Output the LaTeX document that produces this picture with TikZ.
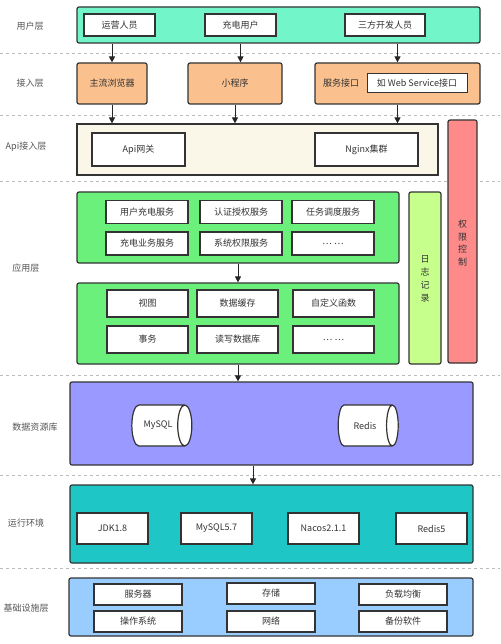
\documentclass[tikz,border=0pt]{standalone}
\usepackage{fontspec}
\newfontfamily\cjk{Noto Sans CJK SC}
\usetikzlibrary{arrows.meta,shapes.geometric}
\definecolor{txt}{HTML}{333333}
\definecolor{lbl}{HTML}{555555}
\definecolor{edge}{HTML}{333333}
\definecolor{cuser}{HTML}{72F5C8}
\definecolor{cacc}{HTML}{FAC08E}
\definecolor{capi}{HTML}{FBF7E8}
\definecolor{cred}{HTML}{FF8A8A}
\definecolor{capp}{HTML}{6CF07C}
\definecolor{clog}{HTML}{C6FF8C}
\definecolor{cdata}{HTML}{9999FF}
\definecolor{crun}{HTML}{1EC6C6}
\definecolor{cinf}{HTML}{99CCFF}
\definecolor{csep}{HTML}{BBBBBB}
\tikzset{
  every node/.style={font=\cjk\fontsize{9pt}{12.8pt}\selectfont, text=txt, inner sep=0pt},
  layer/.style={draw=edge, line width=1.2pt, rounded corners=2pt},
  wbox/.style={draw=edge, line width=1.2pt, fill=white},
  lay/.style={text=lbl},
  sep/.style={draw=csep, dashed, line width=0.6pt},
  arr/.style={draw=black!85, line width=1pt, -{Triangle[length=6pt,width=6pt]}},
  cyl/.style={cylinder, shape border rotate=0, aspect=1.6, draw=edge, line width=1.2pt,
    cylinder uses custom fill, cylinder body fill=white, cylinder end fill=white,
    minimum width=41pt, minimum height=60pt},
}
\newcommand{\bx}[6]{% style, name, cx, cy, w, h ; text after
  \node[#1, minimum width=#5pt, minimum height=#6pt] (#2) at (#3,#4)}
\begin{document}
\begin{tikzpicture}[x=1pt,y=-1pt]
\useasboundingbox[fill=white] (0,0) rectangle (500,644);
% separators
\coordinate (s1l) at (0,53);  \coordinate (s1r) at (500,53);
\coordinate (s2l) at (0,115); \coordinate (s2r) at (500,115);
\coordinate (s3l) at (0,181); \coordinate (s3r) at (500,181);
\coordinate (s4l) at (0,375); \coordinate (s4r) at (500,375);
\coordinate (s5l) at (0,475); \coordinate (s5r) at (500,475);
\coordinate (s6l) at (0,568); \coordinate (s6r) at (500,568);
\foreach \i in {1,...,6} {\draw[sep] (s\i l) -- (s\i r);}
% layer labels
\node[lay] (l1) at (30,26) {用户层};
\node[lay] (l2) at (30,83) {接入层};
\node[lay] (l3) at (26,147) {Api接入层};
\node[lay] (l4) at (26,268) {应用层};
\node[lay] (l5) at (35,427) {数据资源库};
\node[lay] (l6) at (26,523) {运行环境};
\node[lay] (l7) at (26,608) {基础设施层};
% user layer
\bx{layer,fill=cuser}{user}{278.5}{25}{403}{36} {};
\bx{wbox}{u1}{119.5}{25}{71}{22} {运营人员};
\bx{wbox}{u2}{240.5}{25}{71}{22} {充电用户};
\bx{wbox}{u3}{385}{25}{80}{22} {三方开发人员};
% access layer
\bx{layer,fill=cacc}{browser}{112}{83.5}{70}{41} {主流浏览器};
\bx{layer,fill=cacc}{mini}{235}{83.5}{94}{41} {小程序};
\bx{layer,fill=cacc}{svc}{397.5}{83.5}{165}{41} {};
\node (svct) at (341,83.5) {服务接口};
\bx{wbox,line width=1pt}{web}{417}{83.5}{100}{19} {如 Web Service接口};
% api layer
\bx{layer,fill=capi,rounded corners=0pt}{api}{257.5}{149.5}{361}{51} {};
\bx{wbox}{gw}{138.5}{149.5}{93}{33} {Api网关};
\bx{wbox}{ngx}{366.5}{149.5}{103}{33} {Nginx集群};
% permission bar
\bx{layer,fill=cred}{perm}{462.5}{241.5}{29}{243} {};
\node[align=center] (permt) at (462.5,243) {权\\限\\控\\制};
% app layer
\bx{layer,fill=capp}{app1}{238}{227.5}{322}{71} {};
\bx{wbox}{a11}{147}{212}{82}{23} {用户充电服务};
\bx{wbox}{a12}{241}{212}{82}{23} {认证授权服务};
\bx{wbox}{a13}{333}{212}{82}{23} {任务调度服务};
\bx{wbox}{a21}{147}{243.5}{82}{23} {充电业务服务};
\bx{wbox}{a22}{241}{243.5}{82}{23} {系统权限服务};
\bx{wbox}{a23}{333}{243.5}{82}{23} {… …};
\bx{layer,fill=capp}{app2}{238}{323.5}{322}{81} {};
\bx{wbox}{b11}{147.5}{303.5}{81}{27} {视图};
\bx{wbox}{b12}{237.5}{303.5}{81}{27} {数据缓存};
\bx{wbox}{b13}{333.5}{303.5}{81}{27} {自定义函数};
\bx{wbox}{b21}{147.5}{339.5}{81}{27} {事务};
\bx{wbox}{b22}{237.5}{339.5}{81}{27} {读写数据库};
\bx{wbox}{b23}{333.5}{339.5}{81}{27} {… …};
\bx{layer,fill=clog}{log}{425}{278}{32}{172} {};
\node[align=center] (logt) at (425,279) {日\\志\\记\\录};
% data layer
\bx{layer,fill=cdata}{data}{271.5}{423.5}{403}{83} {};
\node[cyl] (mysql) at (158,425.5) {MySQL};
\node[cyl] (redis) at (365,425.5) {Redis};
% runtime
\bx{layer,fill=crun}{run}{271.5}{524}{403}{78} {};
\bx{wbox}{r1}{112.5}{528.5}{71}{31} {JDK1.8};
\bx{wbox}{r2}{216.5}{528.5}{71}{31} {MySQL5.7};
\bx{wbox}{r3}{323.5}{528.5}{71}{31} {Nacos2.1.1};
\bx{wbox}{r4}{431.5}{528.5}{71}{31} {Redis5};
% infrastructure
\bx{layer,fill=cinf}{inf}{271}{607}{404}{58} {};
\bx{wbox}{i11}{138}{594.5}{88}{21} {服务器};
\bx{wbox}{i12}{271}{593.5}{88}{21} {存储};
\bx{wbox}{i13}{403}{594.5}{88}{21} {负载均衡};
\bx{wbox}{i21}{138}{621.5}{88}{21} {操作系统};
\bx{wbox}{i22}{271}{621.5}{88}{21} {网络};
\bx{wbox}{i23}{403}{621.5}{88}{21} {备份软件};
% arrows
\draw[arr] (browser.north |- user.south) -- (browser.north);
\draw[arr] (u2.south |- user.south) -- (u2.south |- mini.north);
\draw[arr] (svc.north |- user.south) -- (svc.north);
\draw[arr] (browser.south) -- (browser.south |- api.north);
\draw[arr] (mini.south) -- (mini.south |- api.north);
\draw[arr] (svc.south) -- (svc.south |- api.north);
\draw[arr] (app1.south) -- (app2.north);
\draw[arr] (app2.south) -- (app2.south |- data.north);
\coordinate (dr) at (253,0);
\draw[arr] (dr |- data.south) -- (dr |- run.north);
\end{tikzpicture}
\end{document}
